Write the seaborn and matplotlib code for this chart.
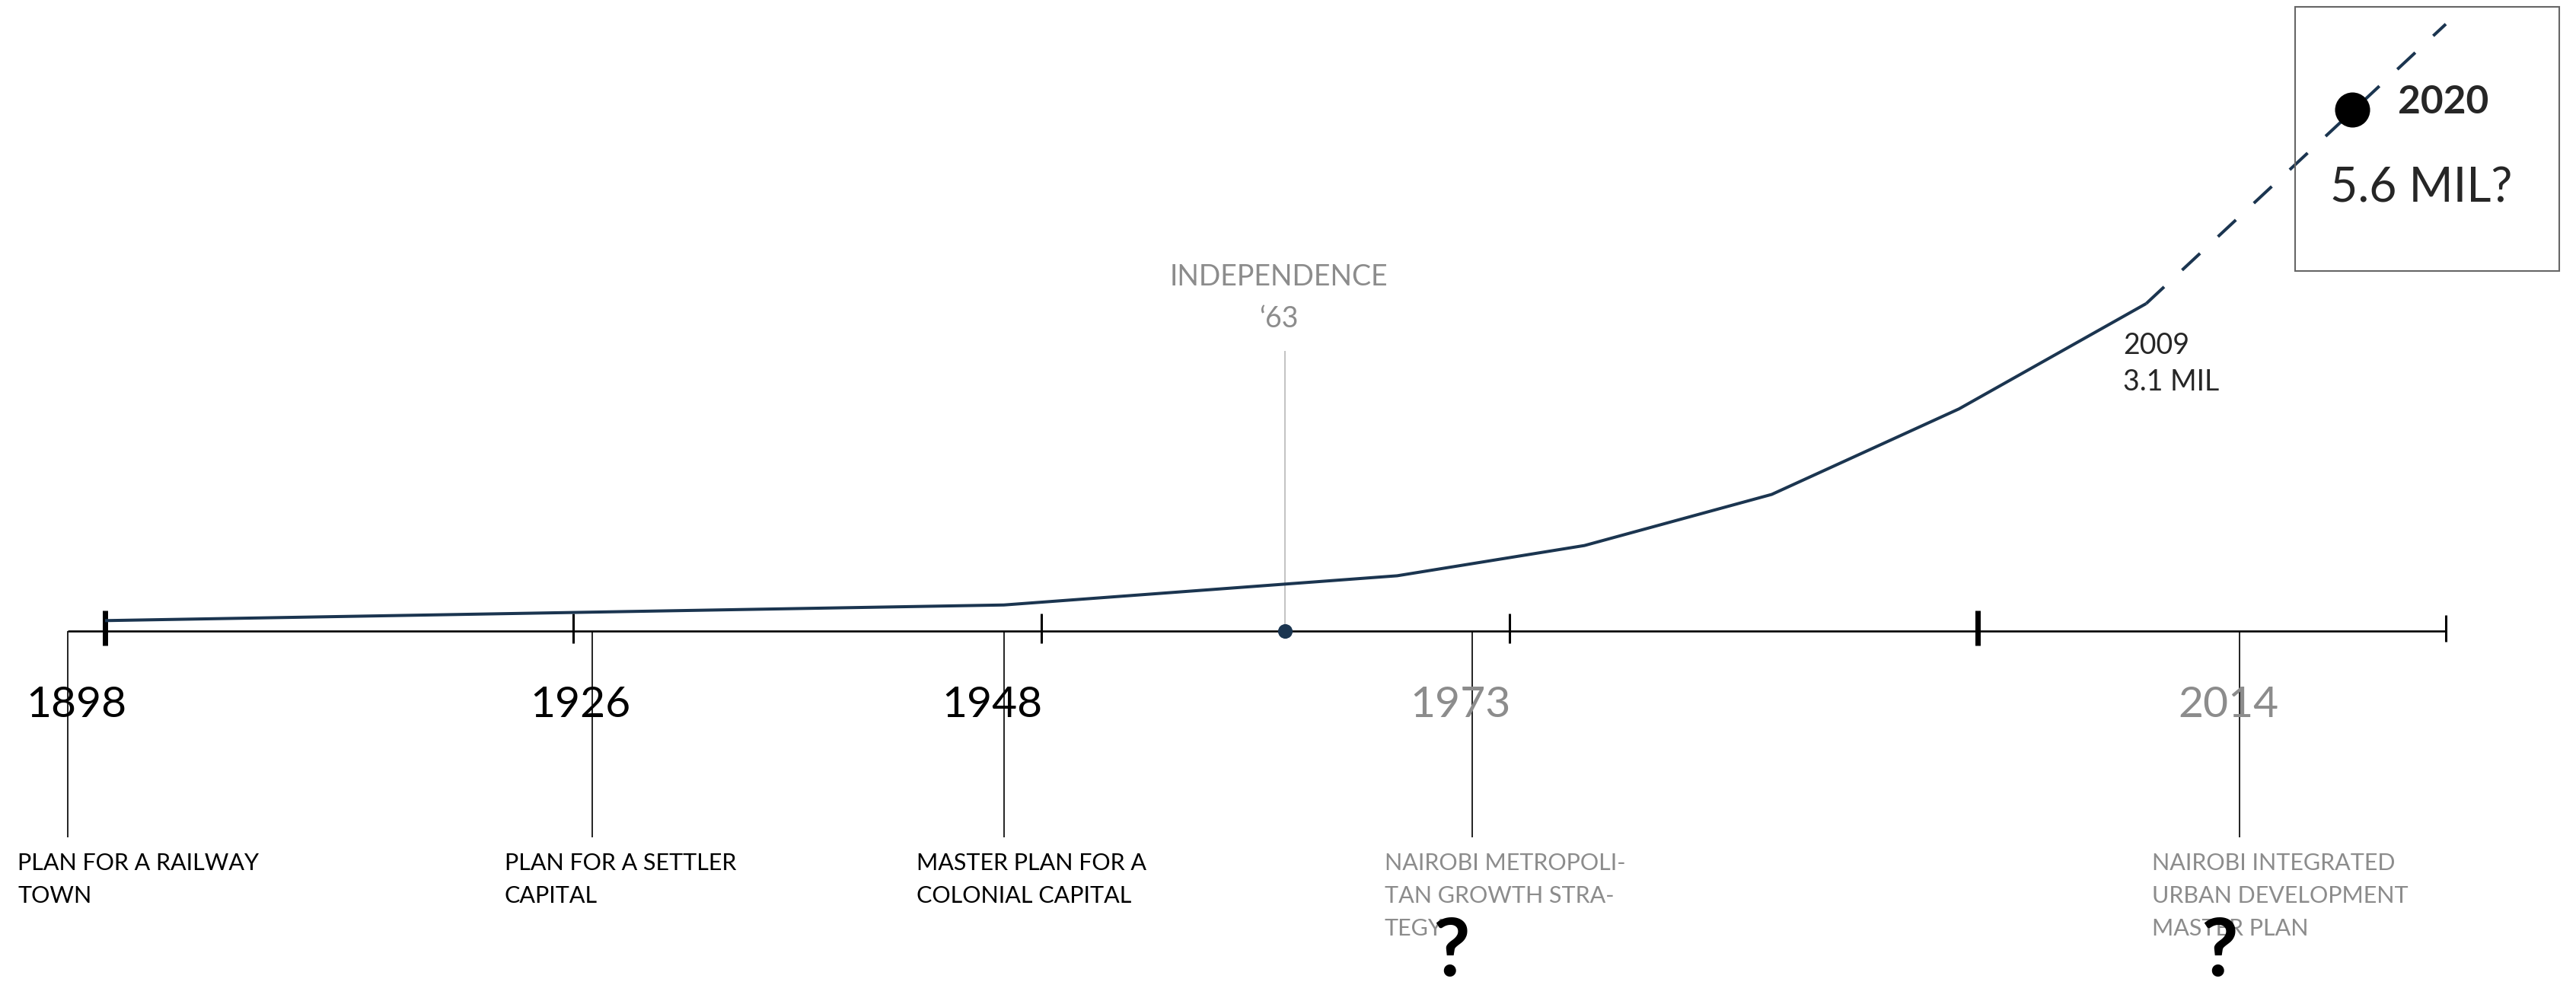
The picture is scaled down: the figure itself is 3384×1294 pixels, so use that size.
import numpy as np
import pandas as pd
import seaborn as sns
import matplotlib.pyplot as plt
from matplotlib.patches import Rectangle

sns.set_style("white")
plt.rcParams["font.family"] = ["Lato", "DejaVu Sans"]

# Nairobi population (millions)
pop_years = [1900, 1948, 1969, 1979, 1989, 1999, 2009]
pop_millions = [0.10, 0.25, 0.53, 0.82, 1.31, 2.13, 3.14]

# dashed projection past the last census
proj_years = [2009, 2025]
proj_millions = [3.14, 5.82]
target_year = 2020
target_millions = 5.0

# plans along the timeline
plan_years = [1898, 1926, 1948, 1973, 2014]
plan_names = [
    "PLAN FOR A RAILWAY\nTOWN",
    "PLAN FOR A SETTLER\nCAPITAL",
    "MASTER PLAN FOR A\nCOLONIAL CAPITAL",
    "NAIROBI METROPOLI-\nTAN GROWTH STRA-\nTEGY",
    "NAIROBI INTEGRATED\nURBAN DEVELOPMENT\nMASTER PLAN",
]
plan_questioned = [False, False, False, True, True]

tick_years = [1900, 1925, 1950, 1975, 2000, 2025]
independence_year = 1963

W, H = 3384, 1294
navy = "#1b3550"
grey = "#8c8c8c"

fig = plt.figure(figsize=(W / 100, H / 100), dpi=100)
ax = fig.add_axes([0, 0, 1, 1])
# 24.6 px per year, 1900 at x=138 ; 137 px per million, zero at y=829
xmin = 1900 - 138 / 24.6
ax.set_xlim(xmin, xmin + W / 24.6)
ax.set_ylim(-(H - 829) / 137, 829 / 137)
ax.axis("off")


def fx(px):
    return px / W


def fy(px):
    return 1 - px / H


def xpx(year):
    return ax.transData.transform((year, 0))[0]


# timeline axis + ticks
ax.hlines(0, plan_years[0], tick_years[-1], color="black", lw=1.9, zorder=2)
for yr in tick_years:
    if yr % 100 == 0:
        ax.vlines(yr, -0.14, 0.20, color="black", lw=5, zorder=3)
    elif yr == tick_years[-1]:
        ax.vlines(yr, -0.10, 0.15, color="black", lw=2.2, zorder=3)
    else:
        ax.vlines(yr, -0.12, 0.17, color="black", lw=2.2, zorder=3)

# population curve
sns.lineplot(x=pop_years, y=pop_millions, ax=ax, color=navy, lw=2.9,
             solid_capstyle="butt", zorder=4)
ax.plot(proj_years, proj_millions, color=navy, lw=2.9,
        linestyle=(0, (8, 8)), zorder=4)
sns.scatterplot(x=[target_year], y=[target_millions], ax=ax, s=1100,
                color="black", linewidth=0, zorder=6)

ax.annotate("2009", xy=(pop_years[-1], pop_millions[-1]), xytext=(-30, -66),
            textcoords="offset pixels", fontsize=27, va="baseline", ha="left")
ax.annotate("3.1 MIL", xy=(pop_years[-1], pop_millions[-1]), xytext=(-30, -114),
            textcoords="offset pixels", fontsize=27, va="baseline", ha="left")

# independence marker
ax.vlines(independence_year, 0, (829 - 461) / 137, color="#b8b8b8", lw=1.2, zorder=1)
sns.scatterplot(x=[independence_year], y=[0], ax=ax, s=190, color=navy,
                linewidth=0, zorder=6)
ix = fx(xpx(independence_year) - 8)
ax.text(ix, fy(375), "INDEPENDENCE", transform=ax.transAxes, ha="center",
        va="baseline", fontsize=27, color=grey)
ax.text(ix, fy(430), "\u201863", transform=ax.transAxes, ha="center",
        va="baseline", fontsize=27, color=grey)

# 2020 box
ax.add_patch(Rectangle((fx(3015), fy(356)), fx(347), 347 / H, transform=ax.transAxes,
                       fill=False, edgecolor="#666666", lw=1.5, zorder=5))
ax.text(fx(3150), fy(149), "2020", transform=ax.transAxes, fontsize=37,
        fontweight="bold", va="baseline", ha="left")
ax.text(fx(3181), fy(265), "5.6 MIL?", transform=ax.transAxes, fontsize=45,
        va="baseline", ha="center")

# plans
for yr, name, q in zip(plan_years, plan_names, plan_questioned):
    c = grey if q else "black"
    lx = xpx(yr)
    ax.vlines(yr, -(1100 - 829) / 137, 0, color="#222222", lw=1.4, zorder=1)
    ax.text(fx(max(lx - 15, 100)), fy(942), str(yr), transform=ax.transAxes,
            ha="center", va="baseline", fontsize=41, color=c)
    left = max(lx - 115, 23)
    for i, line in enumerate(name.split("\n")):
        ax.text(fx(left), fy(1143 + 43 * i), line, transform=ax.transAxes,
                ha="left", va="baseline", fontsize=22, color=c)
    if q:
        ax.text(fx(left + 88), fy(1282), "?", transform=ax.transAxes,
                ha="center", va="baseline", fontsize=76, fontweight="bold",
                color="black")

plt.savefig("out.png", dpi=100)
